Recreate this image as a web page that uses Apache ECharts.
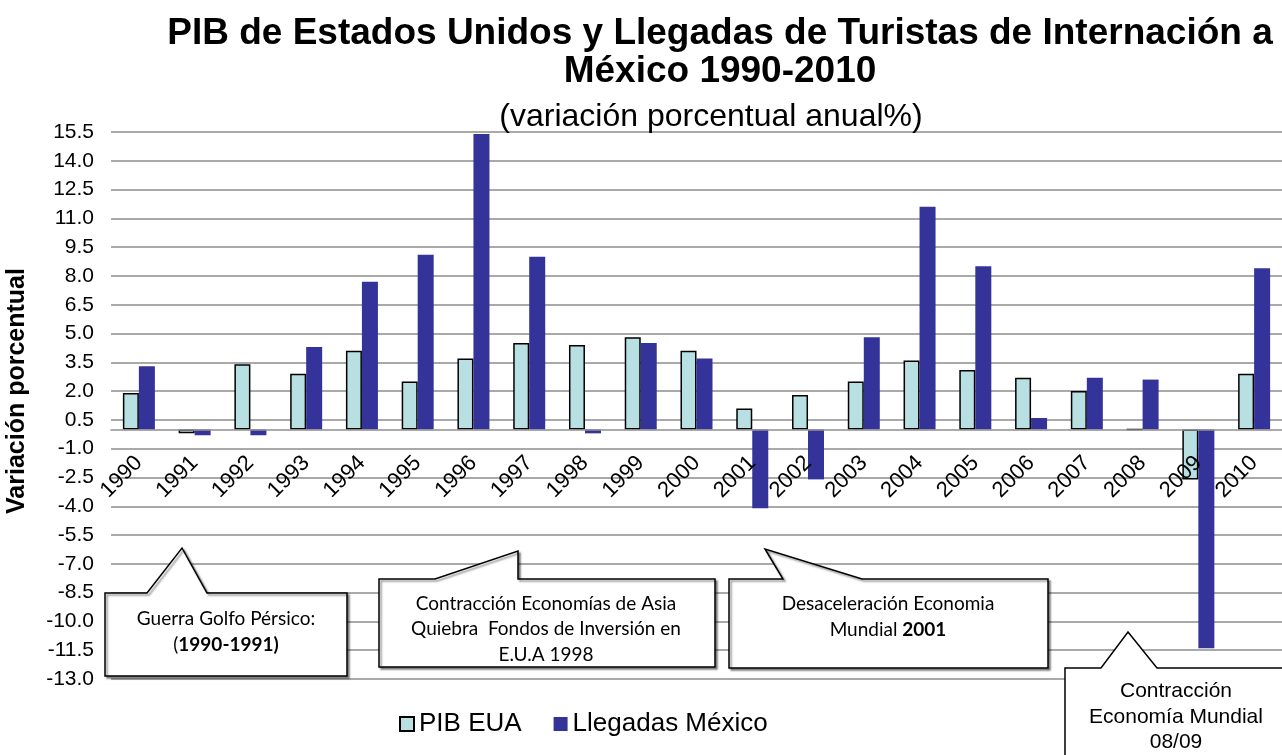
<!DOCTYPE html>
<html>
<head>
<meta charset="utf-8">
<script src="https://cdn.jsdelivr.net/npm/echarts@6/dist/echarts.min.js"></script>
<style>
html, body { margin: 0; padding: 0; background: #fff; }
#chart { width: 1282px; height: 755px; }
</style>
</head>
<body>
<div id="chart"></div>
<script>
// datos (variación porcentual anual)
var years = ['1990', '1991', '1992', '1993', '1994', '1995', '1996', '1997', '1998', '1999', '2000',
             '2001', '2002', '2003', '2004', '2005', '2006', '2007', '2008', '2009', '2010'];
var pibEua = [1.9, -0.2, 3.4, 2.9, 4.1, 2.5, 3.7, 4.5, 4.4, 4.8, 4.1,
              1.1, 1.8, 2.5, 3.6, 3.1, 2.7, 2.0, 0.0, -2.6, 2.9];
var llegadasMexico = [3.3, -0.3, -0.3, 4.3, 7.7, 9.1, 15.4, 9.0, -0.2, 4.5, 3.7,
                      -4.1, -2.6, 4.8, 11.6, 8.5, 0.6, 2.7, 2.6, -11.4, 8.4];
var yMin = -13.0, yMax = 15.5, yStep = 1.5;

var ARIAL = '"Liberation Sans", Arial, sans-serif';
var CALIBRI = 'Lato, "Liberation Sans", sans-serif';

var gridTop = 132, gridHeight = 547;
// el eje de categorías va sobre el cero
var zeroOffset = -(gridHeight * (0 - yMin) / (yMax - yMin));

// globo de texto: caja con pico
function bubble(points, shadow) {
    return {
        type: 'polygon',
        z: 100,
        shape: { points: points },
        style: {
            fill: '#fff',
            stroke: '#000',
            lineWidth: 1.5,
            shadowColor: shadow ? 'rgba(0,0,0,0.45)' : 'transparent',
            shadowOffsetX: shadow ? 2 : 0,
            shadowOffsetY: shadow ? 2 : 0,
            shadowBlur: shadow ? 2 : 0
        }
    };
}
function label(x, y, text, font, size, rich) {
    return {
        type: 'text',
        z: 101,
        x: x,
        y: y,
        style: {
            text: text,
            fontFamily: font,
            fontSize: size,
            lineHeight: 25.5,
            fill: '#000',
            align: 'center',
            verticalAlign: 'middle',
            rich: rich
        }
    };
}
var calRich = {
    n: { fontFamily: CALIBRI, fontSize: 19, lineHeight: 25.5, color: '#000' },
    b: { fontFamily: CALIBRI, fontSize: 19, lineHeight: 25.5, color: '#000', fontWeight: 'bold' }
};

var chart = echarts.init(document.getElementById('chart'));
chart.setOption({
    backgroundColor: '#fff',
    animation: false,
    title: [{
        text: 'PIB de Estados Unidos y Llegadas de Turistas de Internación a\nMéxico 1990-2010',
        left: 715,
        top: 10,
        textAlign: 'center',
        textStyle: { fontFamily: ARIAL, fontSize: 37, fontWeight: 'bold', color: '#000', lineHeight: 38 }
    }, {
        text: '(variación porcentual anual%)',
        left: 706,
        top: 96,
        textAlign: 'center',
        textStyle: { fontFamily: ARIAL, fontSize: 32, fontWeight: 'normal', color: '#000' }
    }],
    legend: {
        data: ['PIB EUA', 'Llegadas México'],
        left: 394,
        top: 706,
        icon: 'rect',
        itemWidth: 14,
        itemHeight: 14,
        itemGap: 32,
        textStyle: { fontFamily: ARIAL, fontSize: 26, color: '#000' }
    },
    grid: { left: 111, top: gridTop, width: 1182, height: gridHeight, containLabel: false },
    xAxis: {
        type: 'category',
        data: years,
        offset: zeroOffset,
        axisLine: { onZero: false, lineStyle: { color: '#909090', width: 1.5 } },
        axisTick: { show: false },
        axisLabel: { rotate: 45, fontFamily: ARIAL, fontSize: 22, color: '#000', margin: 30, interval: 0 },
        z: 3
    },
    yAxis: {
        type: 'value',
        min: yMin,
        max: yMax,
        interval: yStep,
        axisLine: { show: false },
        axisTick: { show: false },
        axisLabel: {
            fontFamily: ARIAL, fontSize: 21, color: '#000', margin: 17,
            formatter: function (v) { return v.toFixed(1); }
        },
        splitLine: { lineStyle: { color: '#8c8c8c', width: 1.6 } }
    },
    series: [{
        name: 'PIB EUA',
        type: 'bar',
        data: pibEua,
        barWidth: 16,
        barGap: '0%',
        itemStyle: { color: '#B8E0E2', borderColor: '#000', borderWidth: 1.5 }
    }, {
        name: 'Llegadas México',
        type: 'bar',
        data: llegadasMexico,
        barWidth: 16,
        itemStyle: { color: '#333399' }
    }],
    graphic: [
        {
            type: 'text',
            x: 17,
            y: 391,
            rotation: Math.PI / 2,
            style: {
                text: 'Variación porcentual',
                fontFamily: ARIAL, fontSize: 25, fontWeight: 'bold', fill: '#000',
                align: 'center', verticalAlign: 'middle'
            }
        },
        bubble([[105, 593], [147, 593], [182, 548], [207, 593], [347, 593], [347, 676], [105, 676]], true),
        label(226, 632, '{n|Guerra Golfo Pérsico:}\n{n|(}{b|1990-1991)}', CALIBRI, 19, calRich),
        bubble([[379, 579], [435, 579], [518, 551], [518, 579], [715, 579], [715, 667], [379, 667]], true),
        label(546, 629, 'Contracción Economías de Asia\nQuiebra  Fondos de Inversión en\nE.U.A 1998', CALIBRI, 19),
        bubble([[729, 579], [783, 579], [765, 549], [862, 579], [1048, 579], [1048, 668], [729, 668]], true),
        label(888, 617, '{n|Desaceleración Economia}\n{n|Mundial }{b|2001}', CALIBRI, 19, calRich),
        bubble([[1065, 668], [1101, 668], [1128, 632], [1157, 668], [1300, 668], [1300, 770], [1065, 770]], false),
        label(1176, 717, 'Contracción\nEconomía Mundial\n08/09', ARIAL, 21)
    ]
});
</script>
</body>
</html>
